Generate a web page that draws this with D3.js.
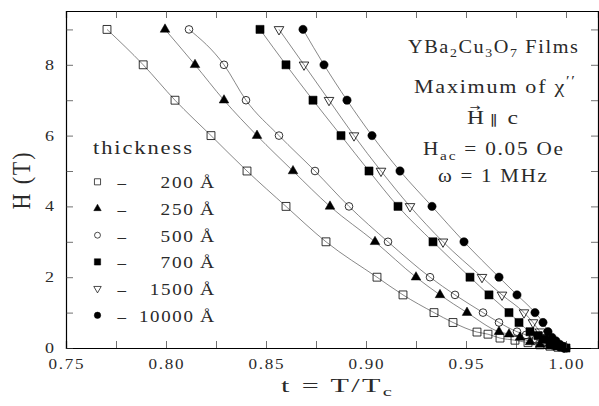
<!DOCTYPE html>
<html>
<head>
<meta charset="utf-8">
<script src="https://cdn.jsdelivr.net/npm/d3@7"></script>
<style>
  body { margin: 0; background: #fff; }
  text { font-family: "Liberation Serif", serif; fill: #2a2a2a; }
</style>
</head>
<body>
<svg id="chart" width="599" height="406"></svg>
<script>
// values: reduced temperature t and field H (T)
const t200 = [0.7705, 0.7886, 0.8045, 0.8225, 0.8405, 0.860, 0.880, 0.9055, 0.9185, 0.934, 0.9435, 0.9555, 0.961, 0.967, 0.9745, 0.981, 0.987, 0.992, 0.996]
const h200 = [9, 8, 7, 6, 5, 4, 3, 2, 1.5, 1.0, 0.72, 0.45, 0.39, 0.28, 0.22, 0.15, 0.09, 0.05, 0.02]
const t250 = [0.7995, 0.8145, 0.829, 0.8455, 0.8635, 0.882, 0.9045, 0.925, 0.937, 0.9505, 0.9665, 0.9715, 0.977, 0.982, 0.987, 0.992, 0.996, 0.999]
const h250 = [9, 8, 7, 6, 5, 4, 3, 2, 1.5, 1.0, 0.46, 0.39, 0.3, 0.17, 0.1, 0.05, 0.02, 0]
const t500 = [0.8115, 0.829, 0.840, 0.8565, 0.8745, 0.8915, 0.911, 0.932, 0.9445, 0.9585, 0.9665, 0.9755, 0.980, 0.985, 0.989, 0.993, 0.997, 0.999]
const h500 = [9, 8, 7, 6, 5, 4, 3, 2, 1.5, 1.0, 0.72, 0.46, 0.37, 0.25, 0.15, 0.08, 0.03, 0]
const t700 = [0.847, 0.860, 0.8735, 0.8875, 0.9015, 0.916, 0.9335, 0.952, 0.9615, 0.9715, 0.9765, 0.982, 0.986, 0.989, 0.992, 0.995, 0.998, 1.0]
const h700 = [9, 8, 7, 6, 5, 4, 3, 2, 1.5, 1.0, 0.72, 0.46, 0.35, 0.25, 0.15, 0.08, 0.03, 0]
const t1500 = [0.8565, 0.869, 0.8815, 0.894, 0.9075, 0.922, 0.9385, 0.958, 0.968, 0.979, 0.9835, 0.987, 0.990, 0.993, 0.996, 0.999]
const h1500 = [9, 8, 7, 6, 5, 4, 3, 2, 1.5, 1.0, 0.72, 0.46, 0.3, 0.18, 0.08, 0.02]
const t10000 = [0.8685, 0.879, 0.8905, 0.903, 0.917, 0.933, 0.949, 0.9665, 0.9755, 0.9845, 0.9885, 0.991, 0.993, 0.995, 0.997, 0.999, 1.0]
const h10000 = [9, 8, 7, 6, 5, 4, 3, 2, 1.5, 1.0, 0.72, 0.46, 0.3, 0.2, 0.1, 0.04, 0]

const thickness = ["200", "250", "500", "700", "1500", "10000"]
const xMajor = [0.75, 0.80, 0.85, 0.90, 0.95, 1.00]
const xMinor = [0.775, 0.825, 0.875, 0.925, 0.975]
const yMajor = [0, 2, 4, 6, 8]
const yMinor = [1, 3, 5, 7, 9]

const series = [
  {t: t200, h: h200, sym: d3.symbolSquare, filled: false, size: 62, rot: 0},
  {t: t250, h: h250, sym: d3.symbolTriangle, filled: true, size: 40, rot: 0},
  {t: t500, h: h500, sym: d3.symbolCircle, filled: false, size: 46, rot: 0},
  {t: t700, h: h700, sym: d3.symbolSquare, filled: true, size: 66, rot: 0},
  {t: t1500, h: h1500, sym: d3.symbolTriangle, filled: false, size: 40, rot: 180},
  {t: t10000, h: h10000, sym: d3.symbolCircle, filled: true, size: 54, rot: 0}
].map((s, i) => ({...s, label: thickness[i], pts: s.t.map((v, j) => ({t: v, h: s.h[j]}))}))

const svg = d3.select("#chart")
const x = d3.scaleLinear().domain([0.75, 1.016]).range([66, 598])
const y = d3.scaleLinear().domain([0, 9.52]).range([348, 11])

// text helper: squeeze/stretch a text to a given width (the original lettering is wide)
function fitText(parent, cx, base, width, size, build, anchor = "middle", sy = 1, ls = 1.5) {
  const t = parent.append("text").attr("font-size", size).attr("letter-spacing", ls)
  build(t)
  const bb = t.node().getBBox()
  const w = bb.width - ls
  const sx = width / w
  const left = anchor === "middle" ? cx - width / 2 : anchor === "end" ? cx - width : cx
  t.attr("transform", `translate(${left},${base}) scale(${sx},${sy}) translate(${-bb.x},0)`)
  return t
}

// curves
const line = d3.line().x(d => x(d.t)).y(d => y(d.h)).curve(d3.curveMonotoneX)
svg.selectAll(".curve")
  .data(series)
  .join("path")
  .attr("class", "curve")
  .attr("d", d => line(d.pts))
  .attr("fill", "none")
  .attr("stroke", "#555")
  .attr("stroke-width", 0.7)

// markers
series.forEach(s => {
  svg.append("g").selectAll("path")
    .data(s.pts)
    .join("path")
    .attr("d", d3.symbol().type(s.sym).size(s.size))
    .attr("transform", d => `translate(${x(d.t)},${y(d.h)}) rotate(${s.rot})`)
    .attr("fill", s.filled ? "#000" : "none")
    .attr("stroke", "#000")
    .attr("stroke-width", s.filled ? 0.5 : 0.8)
})

// frame and ticks
const tk = 7
svg.append("g").attr("transform", "translate(0,348)")
  .call(d3.axisBottom(x).tickValues(xMajor.concat(xMinor)).tickSize(-tk).tickFormat(""))
svg.append("g").attr("transform", "translate(0,11)")
  .call(d3.axisTop(x).tickValues(xMajor.concat(xMinor)).tickSize(-tk).tickFormat(""))
svg.append("g").attr("transform", "translate(66,0)")
  .call(d3.axisLeft(y).tickValues(yMajor.concat(yMinor)).tickSize(-tk).tickFormat(""))
svg.append("g").attr("transform", "translate(598,0)")
  .call(d3.axisRight(y).tickValues(yMajor.concat(yMinor)).tickSize(-tk).tickFormat(""))
svg.selectAll(".domain").attr("stroke", "#000").attr("stroke-width", 1.2)
svg.selectAll(".tick line").attr("stroke", "#333").attr("stroke-width", 0.7)

// tick labels
xMajor.forEach(v => fitText(svg, x(v), 368.5, 35, 15, t => t.text(d3.format(".2f")(v))))
yMajor.forEach(v => fitText(svg, 49.5, y(v) + 5, 9, 15, t => t.text(v)))

// axis titles
fitText(svg, 336.5, 392, 111, 19, t => {
  t.append("tspan").text("t = T/T")
  t.append("tspan").attr("font-size", 13).attr("dy", 4).text("c")
})
const yt = svg.append("g").attr("transform", "translate(30,181) rotate(-90)")
fitText(yt, 0, 0, 57, 18, t => t.text("H (T)"), "middle", 1.35)

// annotation block
fitText(svg, 493, 53, 170, 19, t => {
  t.append("tspan").text("YBa")
  t.append("tspan").attr("font-size", 13).attr("dy", 4).text("2")
  t.append("tspan").attr("dy", -4).text("Cu")
  t.append("tspan").attr("font-size", 13).attr("dy", 4).text("3")
  t.append("tspan").attr("dy", -4).text("O")
  t.append("tspan").attr("font-size", 13).attr("dy", 4).text("7")
  t.append("tspan").attr("dy", -4).text(" Films")
})
fitText(svg, 494.5, 93, 161, 19, t => {
  t.append("tspan").text("Maximum of χ")
  t.append("tspan").attr("font-size", 14).attr("dy", -7).text("′′")
})
fitText(svg, 492.5, 124, 51, 18, t => {
  t.append("tspan").text("H")
  t.append("tspan").attr("font-family", "DejaVu Sans").attr("font-size", 10)
    .attr("letter-spacing", 0).attr("dx", -12.5).attr("dy", -13).text("\u2192")
  t.append("tspan").attr("dx", 0.5).attr("dy", 13).text("  ")
  t.append("tspan").attr("font-family", "DejaVu Sans").attr("font-size", 13).text("\u2225")
  t.append("tspan").text("  c")
})
fitText(svg, 493, 155, 140, 18, t => {
  t.append("tspan").text("H")
  t.append("tspan").attr("font-size", 13).attr("dy", 5).text("ac")
  t.append("tspan").attr("dy", -5).text(" = 0.05 Oe")
})
fitText(svg, 492.5, 182, 109, 18, t => t.text("ω = 1 MHz"))

// legend
fitText(svg, 142.5, 153.5, 99, 18, t => t.text("thickness"))
series.forEach((s, i) => {
  const base = 188.3 + i * 26.7
  svg.append("path")
    .attr("d", d3.symbol().type(s.sym).size(s.size * 0.6))
    .attr("transform", `translate(97.5,${base - 6.5}) rotate(${s.rot})`)
    .attr("fill", s.filled ? "#000" : "none")
    .attr("stroke", "#000")
    .attr("stroke-width", s.filled ? 0.5 : 0.7)
  fitText(svg, 121.5, base, 10, 17, t => t.text("–"), "middle", 1, 0)
  fitText(svg, 193, base, s.label.length * 10.8, 17, t => t.text(s.label), "end")
  fitText(svg, 207.5, base, 15, 17, t => t.text("Å"), "middle", 1, 0)
})
</script>
</body>
</html>
